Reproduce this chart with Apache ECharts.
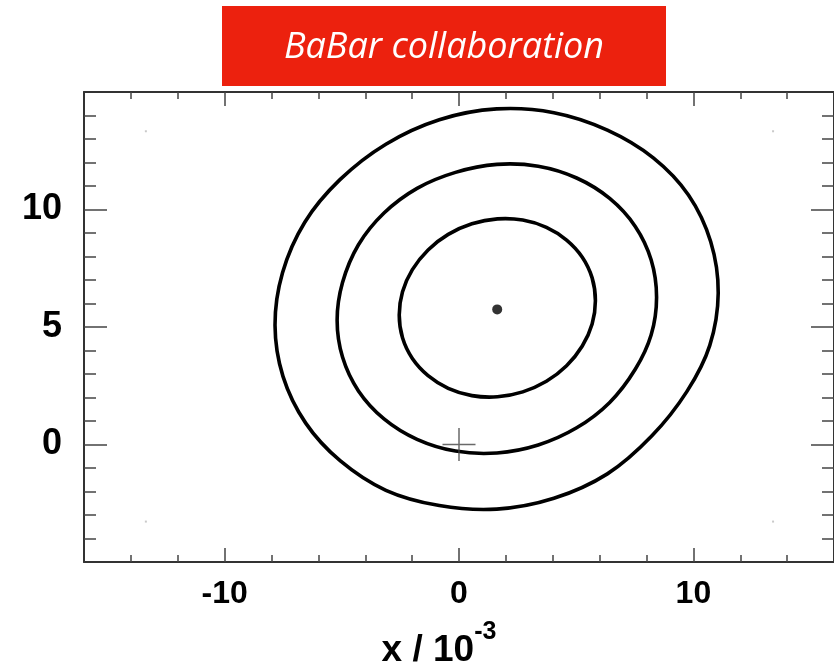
<!DOCTYPE html>
<html>
<head>
<meta charset="utf-8">
<script src="https://cdn.jsdelivr.net/npm/echarts@6/dist/echarts.min.js"></script>
<style>
html,body{margin:0;padding:0;background:#fff;}
#chart{width:834px;height:663px;}
</style>
</head>
<body>
<div id="chart"></div>
<script>
// ---- data ----
const titleText = 'BaBar collaboration';
const xAxisTitle = 'x / 10';
const xAxisTitleExp = '-3';
const xRange = [-16, 16];
const yRange = [-5, 15];
const xMajorTicks = [-10, 0, 10];
const xMinorTicks = [-14, -12, -8, -6, -4, -2, 2, 4, 6, 8, 12, 14];
const yMajorTicks = [0, 5, 10];
const yMinorTicks = [-4, -3, -2, -1, 1, 2, 3, 4, 6, 7, 8, 9, 11, 12, 13, 14];

// closed contours (points listed once, loop closes automatically)
const contourOuter = [
  [11.06, 6.45], [10.74, 8.63], [9.79, 10.62], [8.29, 12.20], [6.33, 13.38],
  [4.05, 14.12], [1.61, 14.28], [-0.84, 13.82], [-3.12, 12.78], [-5.08, 11.27],
  [-6.58, 9.46], [-7.53, 7.31], [-7.85, 5.08], [-7.51, 2.90], [-6.54, 0.91],
  [-5.06, -0.70], [-3.12, -1.95], [-0.84, -2.60], [1.61, -2.75], [4.05, -2.29],
  [6.33, -1.25], [8.22, 0.36], [9.72, 2.25], [10.70, 4.22]
];
const contourMiddle = [
  [8.43, 6.27], [8.20, 7.85], [7.52, 9.28], [6.43, 10.47], [5.02, 11.34],
  [3.38, 11.84], [1.62, 11.92], [-0.15, 11.58], [-1.79, 10.90], [-3.20, 9.85],
  [-4.29, 8.50], [-4.97, 6.89], [-5.20, 5.29], [-4.97, 3.72], [-4.29, 2.28],
  [-3.20, 1.09], [-1.79, 0.22], [-0.15, -0.28], [1.62, -0.36], [3.38, -0.02],
  [5.02, 0.71], [6.43, 1.79], [7.52, 3.20], [8.20, 4.67]
];
const contourInner = [
  [5.82, 6.12], [5.68, 7.09], [5.26, 7.97], [4.59, 8.70], [3.73, 9.24],
  [2.72, 9.55], [1.64, 9.60], [0.55, 9.39], [-0.46, 8.94], [-1.32, 8.28],
  [-1.99, 7.44], [-2.41, 6.50], [-2.55, 5.51], [-2.41, 4.54], [-1.99, 3.66],
  [-1.32, 2.93], [-0.46, 2.39], [0.55, 2.08], [1.64, 2.03], [2.72, 2.24],
  [3.73, 2.69], [4.59, 3.35], [5.26, 4.19], [5.68, 5.13]
];
const bestFit = [[1.63, 5.75]];
const referencePoint = [[0, 0]];
const cornerDots = [[-13.36, 13.33], [-13.36, -3.28], [13.40, 13.33], [13.40, -3.28]];

// ---- chart ----
const chart = echarts.init(document.getElementById('chart'), null, {renderer: 'canvas'});
const frameColor = '#333';
const tickColor = '#444';
const labelFont = {fontFamily: 'Liberation Sans, Arial, sans-serif', fontWeight: 'bold', color: '#000'};

function xAx(pos, major, withLabels, withName) {
  const a = {
    type: 'value', position: pos, min: xRange[0], max: xRange[1],
    splitLine: {show: false},
    axisLine: {show: major, onZero: false, lineStyle: {color: frameColor, width: 2}},
    axisTick: {show: true, inside: true, customValues: major ? xMajorTicks : xMinorTicks,
      length: major ? 14 : 7, lineStyle: {color: tickColor, width: 1.5}},
    axisLabel: withLabels ? Object.assign({show: true, customValues: xMajorTicks, fontSize: 32, margin: 16}, labelFont) : {show: false}
  };
  if (withName) {
    a.name = '{m|' + xAxisTitle + '}{s|' + xAxisTitleExp + '}';
    a.nameLocation = 'middle';
    a.nameGap = 58;
    a.nameTextStyle = {
      padding: [0, 40, 0, 0],
      rich: {
        m: Object.assign({fontSize: 37, lineHeight: 49, verticalAlign: 'bottom'}, labelFont),
        s: Object.assign({fontSize: 25, lineHeight: 25, verticalAlign: 'top'}, labelFont)
      }
    };
  }
  return a;
}
function yAx(pos, major, withLabels) {
  return {
    type: 'value', position: pos, min: yRange[0], max: yRange[1],
    splitLine: {show: false},
    axisLine: {show: major, onZero: false, lineStyle: {color: frameColor, width: 2}},
    axisTick: {show: true, inside: true, customValues: major ? yMajorTicks : yMinorTicks,
      length: major ? 23 : 12, lineStyle: {color: tickColor, width: 1.5}},
    axisLabel: withLabels ? Object.assign({show: true, customValues: yMajorTicks, fontSize: 36, margin: 22}, labelFont) : {show: false}
  };
}

function contourSeries(data) {
  return {
    type: 'custom', data: data, xAxisIndex: 0, yAxisIndex: 0, silent: true,
    encode: {x: 0, y: 1},
    renderItem: function (params, api) {
      if (params.dataIndex !== 0) return null;
      const pts = data.map(function (p) { return api.coord(p); });
      return {
        type: 'polygon',
        shape: {points: pts, smooth: 0.34},
        style: {fill: 'none', stroke: '#000', lineWidth: 3.6}
      };
    }
  };
}

chart.setOption({
  animation: false,
  backgroundColor: '#fff',
  grid: {left: 84, right: 0, top: 92, bottom: 101, containLabel: false, outerBoundsMode: 'none'},
  xAxis: [xAx('bottom', true, true, true), xAx('bottom', false, false, false),
          xAx('top', true, false, false), xAx('top', false, false, false)],
  yAxis: [yAx('left', true, true), yAx('left', false, false),
          yAx('right', true, false), yAx('right', false, false)],
  graphic: [
    {type: 'rect', shape: {x: 222, y: 6, width: 444, height: 80}, style: {fill: '#EC210E'}, z: 10},
    {type: 'text', x: 444, y: 48, z: 11,
      style: {text: titleText, fill: '#fff', font: 'italic 36px "Open Sans", Lato, sans-serif',
        textAlign: 'center', textVerticalAlign: 'middle'}}
  ],
  series: [
    contourSeries(contourOuter),
    contourSeries(contourMiddle),
    contourSeries(contourInner),
    {type: 'scatter', data: bestFit, xAxisIndex: 0, yAxisIndex: 0, symbol: 'circle', symbolSize: 10,
      itemStyle: {color: '#000'}, silent: true},
    {type: 'scatter', data: referencePoint, xAxisIndex: 0, yAxisIndex: 0,
      symbol: 'path://M16,0 L16,32 M0,16 L32,16', symbolSize: 33,
      itemStyle: {color: 'none', borderColor: '#444', borderWidth: 1.5}, silent: true},
    {type: 'scatter', data: cornerDots, xAxisIndex: 0, yAxisIndex: 0, symbol: 'rect', symbolSize: 2,
      itemStyle: {color: '#bbb'}, silent: true}
  ]
});
</script>
</body>
</html>
